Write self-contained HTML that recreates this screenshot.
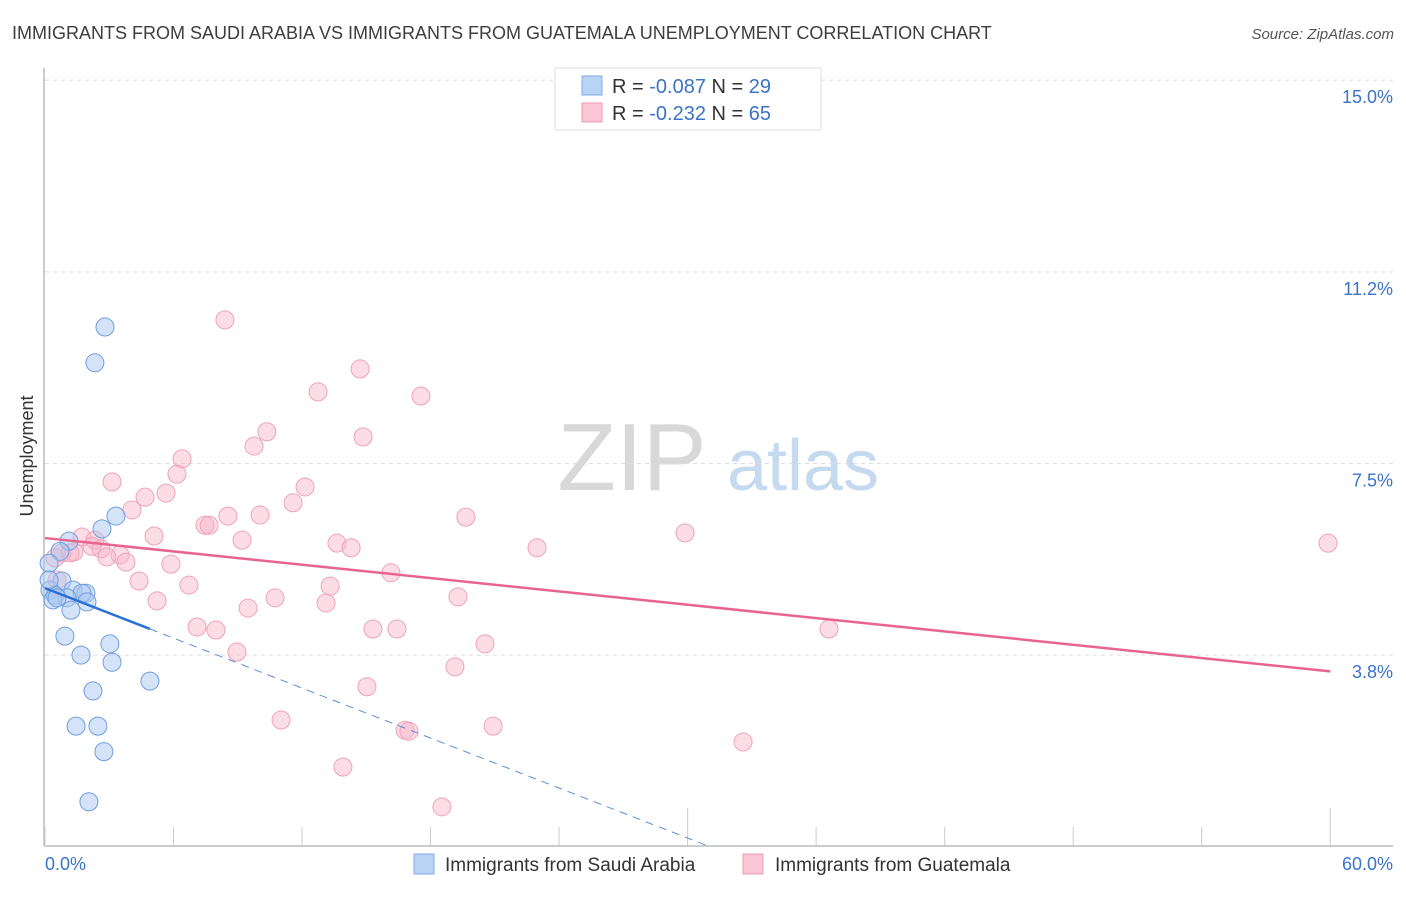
<!DOCTYPE html>
<html><head><meta charset="utf-8">
<style>
body{margin:0;background:#fff;font-family:"Liberation Sans",sans-serif;}
svg text{font-family:"Liberation Sans",sans-serif;}
</style></head>
<body>
<svg id="chart" width="1406" height="892" xmlns="http://www.w3.org/2000/svg">
<text x="12" y="39" font-size="18" fill="#3d3d3d">IMMIGRANTS FROM SAUDI ARABIA VS IMMIGRANTS FROM GUATEMALA UNEMPLOYMENT CORRELATION CHART</text>
<text x="1394" y="39" font-size="15" fill="#555" text-anchor="end" font-style="italic">Source: ZipAtlas.com</text>
<g>
<text x="632" y="490" font-size="96" fill="#d8d8d8" font-family="Liberation Serif" text-anchor="middle">ZIP</text>
<text x="803" y="490" font-size="72" fill="#c5d9ef" text-anchor="middle">atlas</text>
</g>
<g id="grid"></g>
<g id="axes"></g>
<text transform="translate(33,456) rotate(-90)" font-size="18" fill="#333" text-anchor="middle">Unemployment</text>
<g id="pts"></g>
<g id="trend"></g>
<g>
<rect x="555" y="68" width="266" height="62" fill="#fff" stroke="#ddd"/>
<rect x="582" y="76" width="20" height="19" fill="#b9d3f5" stroke="#7ea9e2"/>
<rect x="582" y="103" width="20" height="19" fill="#fbc7d7" stroke="#ee9ab4"/>
<text x="612" y="93" font-size="20" fill="#333">R = <tspan fill="#3b73c8">-0.087</tspan>   N = <tspan fill="#3b73c8">29</tspan></text>
<text x="612" y="120" font-size="20" fill="#333">R =  <tspan fill="#3b73c8">-0.232</tspan>   N = <tspan fill="#3b73c8">65</tspan></text>
</g>
<g>
<rect x="414" y="854" width="20" height="20" fill="#b9d3f5" stroke="#7ea9e2"/>
<text x="445" y="871" font-size="19" fill="#333">Immigrants from Saudi Arabia</text>
<rect x="743" y="854" width="20" height="20" fill="#fbc7d7" stroke="#ee9ab4"/>
<text x="775" y="871" font-size="19" fill="#333">Immigrants from Guatemala</text>
</g>
</svg>
<script>
const yTicks=[3.8,7.5,11.2,15.0];
const yTickVals=[3.75,7.5,11.25,15.0];
const xTickLabels=["0.0%","60.0%"];
const blueX=[2.80,2.33,3.31,2.66,1.12,0.70,0.19,0.79,0.23,1.31,1.91,1.73,0.47,1.03,0.37,1.96,1.21,0.93,3.03,1.68,3.13,4.90,2.24,1.45,2.47,2.75,2.05,0.19,0.56];
const blueY=[10.17,9.47,6.47,6.22,5.98,5.78,5.55,5.20,5.02,5.02,4.96,4.96,4.92,4.87,4.83,4.79,4.63,4.12,3.97,3.75,3.61,3.24,3.05,2.36,2.36,1.86,0.88,5.22,4.87];
const pinkX=[8.40,14.71,12.75,17.55,10.36,14.85,9.76,6.40,6.16,3.13,12.14,4.67,5.65,11.58,4.06,8.54,10.04,19.65,7.47,7.66,5.09,29.88,9.20,13.63,14.29,22.97,59.90,1.73,2.33,2.19,2.61,1.35,0.79,3.50,0.47,2.89,3.78,5.88,16.15,4.39,13.31,6.72,0.56,10.74,5.23,19.28,13.12,9.48,7.10,7.98,15.31,16.43,36.60,8.96,20.54,19.14,15.03,11.02,16.81,16.99,20.92,32.59,13.91,18.53,1.17];
const pinkY=[10.31,9.35,8.90,8.82,8.12,8.02,7.84,7.59,7.29,7.14,7.04,6.84,6.92,6.73,6.59,6.47,6.49,6.45,6.29,6.29,6.08,6.14,6.00,5.94,5.85,5.85,5.94,6.06,6.00,5.88,5.83,5.77,5.75,5.71,5.65,5.67,5.57,5.53,5.36,5.20,5.10,5.12,5.22,4.87,4.81,4.89,4.77,4.67,4.30,4.24,4.26,4.26,4.26,3.81,3.97,3.52,3.13,2.48,2.28,2.26,2.36,2.05,1.56,0.78,5.75];
const blueTrend=[5.06,-0.163];
const pinkTrend=[6.04,-0.0435];
const NS="http://www.w3.org/2000/svg";
const X=v=>45+v*21.42, Y=v=>846.7-v*51.1;
function mk(tag,attrs,parent){const e=document.createElementNS(NS,tag);for(const k in attrs)e.setAttribute(k,attrs[k]);parent.appendChild(e);return e;}
const grid=document.getElementById('grid'),axes=document.getElementById('axes'),svg=document.getElementById('chart');
yTickVals.forEach((v,i)=>{
 const l=mk('line',{x1:45,x2:1393,y1:Y(v),y2:Y(v),stroke:'#ddd','stroke-dasharray':'4,4'},grid);
 
 
 const t=mk('text',{x:1393,y:Y(v)+23,'font-size':18,fill:'#3b73c8','text-anchor':'end'},axes);
 t.textContent=yTicks[i].toFixed(1)+'%';
 
 
});
const ax=mk('line',{x1:44,x2:44,y1:68,y2:846,stroke:'#bbb','stroke-width':1.5},axes);


const bx=mk('line',{x1:44,x2:1393,y1:846,y2:846,stroke:'#bbb','stroke-width':1.5},axes);


for(let i=0;i<=10;i++){
 const tk=mk('line',{x1:X(i*6),x2:X(i*6),y1:(i==5||i==10)?808:827,y2:846,stroke:'#ccc'},axes);
 
 
}
[[0,'start',45],[60,'end',1393]].forEach((a,i)=>{
 const t=mk('text',{x:a[2],y:870,'font-size':18,fill:'#3b73c8','text-anchor':a[1]},axes);
 t.textContent=xTickLabels[i];
 
 
});
const pts=document.getElementById('pts');
pinkX.forEach((x,i)=>{
 const c=mk('circle',{cx:X(x),cy:Y(pinkY[i]),r:9,fill:'rgba(248,180,200,0.45)',stroke:'#eea2b8','stroke-width':1},pts);
 
 
});
blueX.forEach((x,i)=>{
 const c=mk('circle',{cx:X(x),cy:Y(blueY[i]),r:9,fill:'rgba(170,200,240,0.5)',stroke:'#6f9ee0','stroke-width':1},pts);
 
 
});
const tr=document.getElementById('trend');
const pl=mk('line',{x1:X(0),y1:Y(pinkTrend[0]),x2:X(60),y2:Y(pinkTrend[0]+pinkTrend[1]*60),stroke:'#e8648f','stroke-width':2.5},tr);


const bs=mk('line',{x1:X(0),y1:Y(blueTrend[0]),x2:X(4.9),y2:Y(blueTrend[0]+blueTrend[1]*4.9),stroke:'#2a6fd6','stroke-width':2.5},tr);


const xe=-blueTrend[0]/blueTrend[1];
const bd=mk('line',{x1:X(4.9),y1:Y(blueTrend[0]+blueTrend[1]*4.9),x2:X(xe),y2:Y(0),stroke:'#5b8fd8','stroke-width':1,'stroke-dasharray':'8,6'},tr);


</script>
</body></html>
